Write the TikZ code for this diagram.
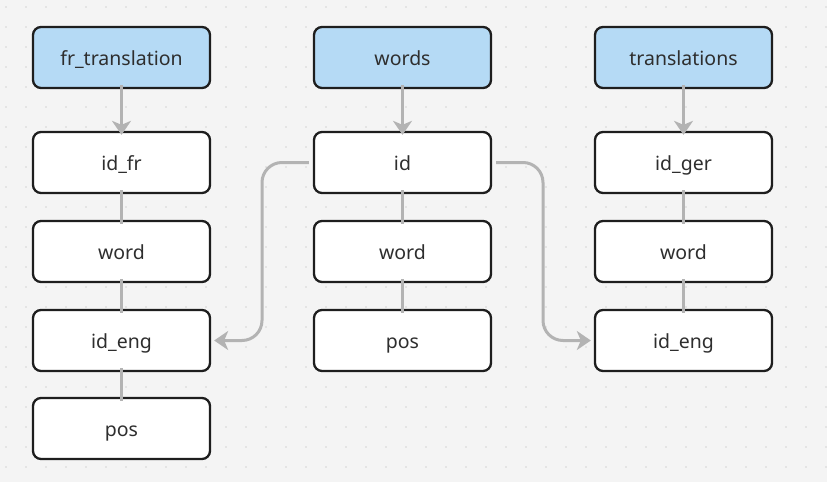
\documentclass[tikz,border=0pt]{standalone}
\usepackage{fontspec}
\setmainfont{Noto Sans}
\usetikzlibrary{arrows.meta}
\definecolor{bg}{HTML}{F4F4F4}
\definecolor{dotc}{HTML}{D4D4D4}
\definecolor{hdr}{HTML}{B5DAF5}
\definecolor{bord}{HTML}{1E1E1E}
\definecolor{conn}{HTML}{B3B3B3}
\definecolor{txt}{HTML}{2E2E2E}
\tikzset{
  box/.style={draw=bord, line width=2.3pt, rounded corners=8pt, fill=white,
    minimum width=177pt, minimum height=61pt, inner sep=0pt,
    text height=17pt, text depth=2pt,
    font=\fontsize{19.5}{23}\selectfont, text=txt},
  hbox/.style={box, fill=hdr},
  link/.style={draw=conn, line width=3pt},
  arr/.style={link, -{Stealth[length=14pt,width=19pt,inset=4pt]}},
}
\begin{document}
\begin{tikzpicture}[x=1pt,y=-1pt]
\useasboundingbox (0,0) rectangle (827,482);
\fill[bg] (0,0) rectangle (827,482);
\foreach \i in {0,...,41} \foreach \j in {0,...,23}
  \fill[dotc] (6+20*\i,7+20*\j) circle (0.9pt);
% column 1
\node[hbox] (fr) at (121.5,57.5) {fr\_translation};
\node[box] (idfr) at (121.5,162.5) {id\_fr};
\node[box] (wfr) at (121.5,251.5) {word};
\node[box] (engfr) at (121.5,340.5) {id\_eng};
\node[box] (posfr) at (121.5,428.5) {pos};
% column 2
\node[hbox] (words) at (402.5,57.5) {words};
\node[box] (id) at (402.5,162.5) {id};
\node[box] (ww) at (402.5,251.5) {word};
\node[box] (posw) at (402.5,340.5) {pos};
% column 3
\node[hbox] (tr) at (683.5,57.5) {translations};
\node[box] (idger) at (683.5,162.5) {id\_ger};
\node[box] (wtr) at (683.5,251.5) {word};
\node[box] (engtr) at (683.5,340.5) {id\_eng};
% arrows from headers
\draw[arr] ([yshift=4pt]fr.south) -- ([yshift=-4pt]idfr.north);
\draw[arr] ([yshift=4pt]words.south) -- ([yshift=-4pt]id.north);
\draw[arr] ([yshift=4pt]tr.south) -- ([yshift=-4pt]idger.north);
% field links
\draw[link] ([yshift=4pt]idfr.south) -- ([yshift=-4pt]wfr.north);
\draw[link] ([yshift=4pt]wfr.south) -- ([yshift=-4pt]engfr.north);
\draw[link] ([yshift=4pt]engfr.south) -- ([yshift=-4pt]posfr.north);
\draw[link] ([yshift=4pt]id.south) -- ([yshift=-4pt]ww.north);
\draw[link] ([yshift=4pt]ww.south) -- ([yshift=-4pt]posw.north);
\draw[link] ([yshift=4pt]idger.south) -- ([yshift=-4pt]wtr.north);
\draw[link] ([yshift=4pt]wtr.south) -- ([yshift=-4pt]engtr.north);
% cross links
\draw[arr, rounded corners=20pt] ([xshift=-4pt]id.west) -- (262,162.5) -- (262,340.5) -- ([xshift=3pt]engfr.east);
\draw[arr, rounded corners=20pt] ([xshift=4pt]id.east) -- (543,162.5) -- (543,340.5) -- ([xshift=-3pt]engtr.west);
\end{tikzpicture}
\end{document}
